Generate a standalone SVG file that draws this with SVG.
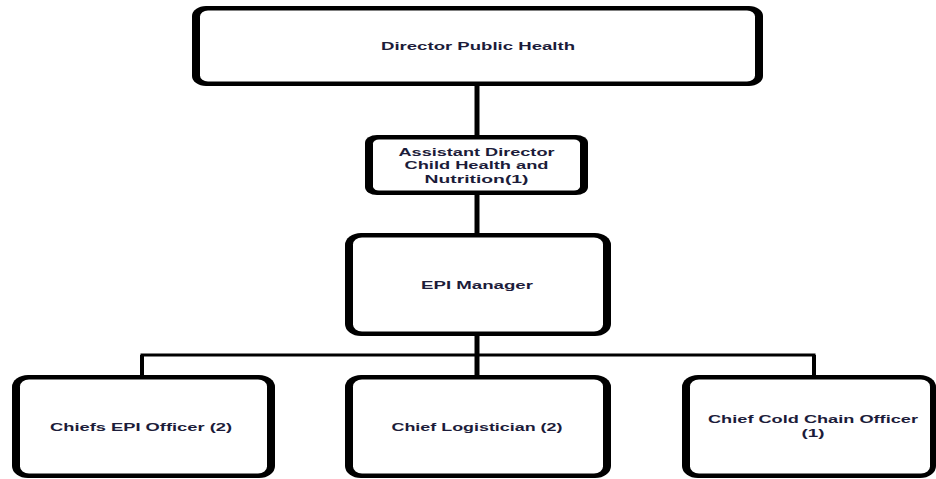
<svg xmlns="http://www.w3.org/2000/svg" width="936" height="479" viewBox="0 0 936 479">
  <style>
    .frame { fill: #000000; }
    .inner { fill: #ffffff; }
    .lbl { font-family: "Liberation Sans", Arial, sans-serif; font-weight: bold; font-size: 11.5px; fill: #1c1c3a; }
    .conn { stroke: #000000; fill: none; stroke-linecap: butt; }
  </style>
  <rect x="0" y="0" width="936" height="479" fill="#ffffff"/>

  <g id="connectors">
    <line class="conn" x1="477" y1="84" x2="477" y2="137" stroke-width="5"/>
    <line class="conn" x1="477" y1="193" x2="477" y2="235" stroke-width="5"/>
    <line class="conn" x1="477" y1="334" x2="477" y2="377" stroke-width="5"/>
    <polyline class="conn" points="142,377 142,355 814,355 814,377" stroke-width="3"/>
    <line class="conn" x1="142" y1="355" x2="142" y2="377" stroke-width="4"/>
    <line class="conn" x1="814" y1="355" x2="814" y2="377" stroke-width="4"/>
  </g>

  <g id="director-public-health">
    <rect class="frame" x="192" y="6" width="571" height="80" rx="14" ry="10"/>
    <rect class="inner" x="200" y="10.5" width="555" height="71" rx="8" ry="6"/>
    <text class="lbl" x="381" y="49.5" textLength="194" lengthAdjust="spacingAndGlyphs">Director Public Health</text>
  </g>

  <g id="assistant-director">
    <rect class="frame" x="365" y="135" width="223" height="60" rx="12" ry="8"/>
    <rect class="inner" x="373" y="139.5" width="207" height="51" rx="6" ry="4"/>
    <text class="lbl" x="398.5" y="155.5" textLength="156" lengthAdjust="spacingAndGlyphs">Assistant Director</text>
    <text class="lbl" x="404.5" y="169" textLength="144" lengthAdjust="spacingAndGlyphs">Child Health and</text>
    <text class="lbl" x="424.5" y="183" textLength="104" lengthAdjust="spacingAndGlyphs">Nutrition(1)</text>
  </g>

  <g id="epi-manager">
    <rect class="frame" x="345" y="233" width="266" height="103" rx="16" ry="12"/>
    <rect class="inner" x="353" y="237.5" width="250" height="94" rx="9" ry="7"/>
    <text class="lbl" x="421" y="289" textLength="112" lengthAdjust="spacingAndGlyphs">EPI Manager</text>
  </g>

  <g id="chiefs-epi-officer">
    <rect class="frame" x="12" y="375" width="263" height="103" rx="16" ry="12"/>
    <rect class="inner" x="20" y="379.5" width="247" height="94" rx="9" ry="7"/>
    <text class="lbl" x="50" y="430.5" textLength="182" lengthAdjust="spacingAndGlyphs">Chiefs EPI Officer (2)</text>
  </g>

  <g id="chief-logistician">
    <rect class="frame" x="345" y="375" width="266" height="103" rx="16" ry="12"/>
    <rect class="inner" x="353" y="379.5" width="250" height="94" rx="9" ry="7"/>
    <text class="lbl" x="391.5" y="430.5" textLength="171" lengthAdjust="spacingAndGlyphs">Chief Logistician (2)</text>
  </g>

  <g id="chief-cold-chain-officer">
    <rect class="frame" x="682" y="375" width="254" height="103" rx="16" ry="12"/>
    <rect class="inner" x="690" y="379.5" width="240" height="94" rx="9" ry="7"/>
    <text class="lbl" x="708" y="423" textLength="210" lengthAdjust="spacingAndGlyphs">Chief Cold Chain Officer</text>
    <text class="lbl" x="801.5" y="437" textLength="23" lengthAdjust="spacingAndGlyphs">(1)</text>
  </g>
</svg>
